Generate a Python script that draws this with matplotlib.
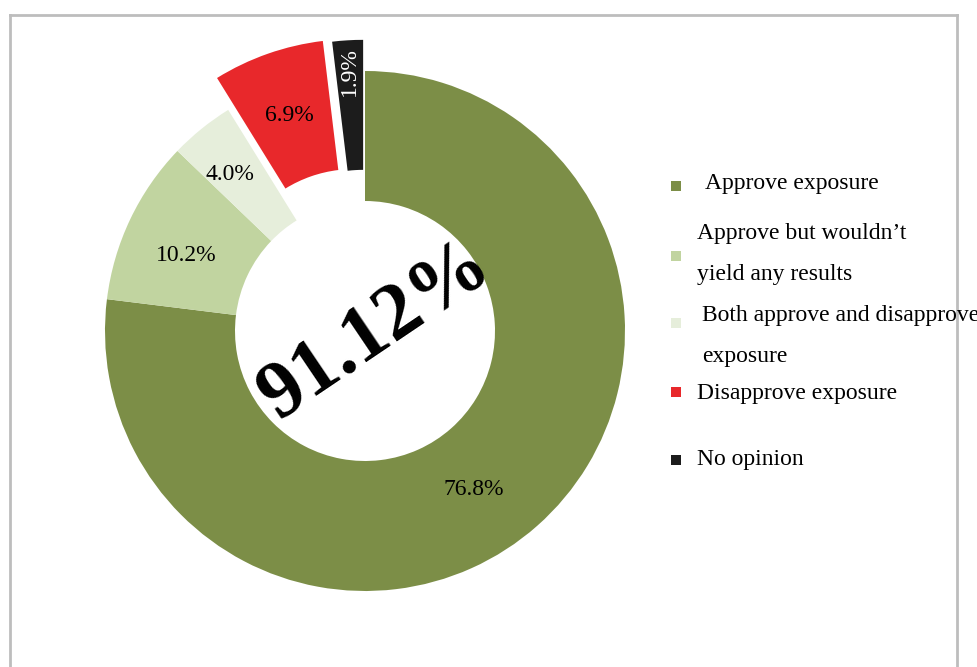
import matplotlib.pyplot as plt
from matplotlib.lines import Line2D
from matplotlib.patches import Rectangle

plt.rcParams['font.family'] = ['Liberation Serif', 'DejaVu Serif']

labels = ['Approve exposure', 'Approve but wouldn\u2019t\nyield any results',
          'Both approve and disapprove\nexposure', 'Disapprove exposure', 'No opinion']
values = [76.8, 10.2, 4.0, 6.9, 1.9]
value_text = ['76.8%', '10.2%', '4.0%', '6.9%', '1.9%']
colors = ['#7C8E47', '#C1D4A0', '#E6EEDB', '#E8282B', '#1C1C1C']
explode = [0, 0, 0, 0.13, 0.12]
center_text = '91.12%'

W, H = 978, 667
fig = plt.figure(figsize=(W / 100, H / 100), dpi=100)

# axes placed so that the donut center sits at (365, 331) px with radius 260 px
cx, cy, r = 365, 331, 260
half = 1.25 * r
ax = fig.add_axes([(cx - half) / W, (H - cy - half) / H, 2 * half / W, 2 * half / H])
wedges, texts, autotexts = ax.pie(values, colors=colors, explode=explode,
                                  startangle=90, counterclock=False,
                                  wedgeprops=dict(width=0.5, linewidth=0),
                                  autopct='%.1f', pctdistance=0.75)
ax.set_xlim(-1.25, 1.25)
ax.set_ylim(-1.25, 1.25)
ax.set_aspect('equal')
ax.axis('off')

for t, s in zip(autotexts, value_text):
    t.set_text(s)
    t.set_fontsize(17)
    t.set_color('black')

# small tweaks, the labels in the original are not all on the same ring
autotexts[0].set_position((0.42, -0.61))
x, y = autotexts[1].get_position()
autotexts[1].set_position((x - 0.01, y - 0.03))
x, y = autotexts[2].get_position()
autotexts[2].set_position((x * 1.1, y * 1.03))
x, y = autotexts[4].get_position()
autotexts[4].set_position((x * 1.15, y * 1.15))
autotexts[4].set_color('white')
autotexts[4].set_rotation(90)

ax.text(0.04, 0.0, center_text, fontsize=58, fontweight='bold', rotation=34,
        ha='center', va='center', rotation_mode='anchor')

# legend drawn by hand to keep the odd spacing
marker_y = [186, 256, 323, 392, 460]
text_x = [705, 697, 702, 697, 697]
text_y = [184, 254, 336, 393, 459]
for lab, col, my, tx, ty in zip(labels, colors, marker_y, text_x, text_y):
    fig.patches.append(Rectangle(((676 - 5) / W, (H - my - 5) / H), 10 / W, 10 / H,
                                 transform=fig.transFigure, facecolor=col,
                                 edgecolor='none'))
    fig.text(tx / W, (H - ty) / H, lab, fontsize=17, ha='left', va='center',
             linespacing=2.2)

# frame around the picture (open at the bottom)
for xs, ys in [([10, 10], [H, 15]), ([10, 957], [15, 15]), ([957, 957], [15, H])]:
    fig.add_artist(Line2D([v / W for v in xs], [(H - v) / H for v in ys],
                          color='#BDBDBD', linewidth=2))

fig.savefig('out.png', dpi=100)
